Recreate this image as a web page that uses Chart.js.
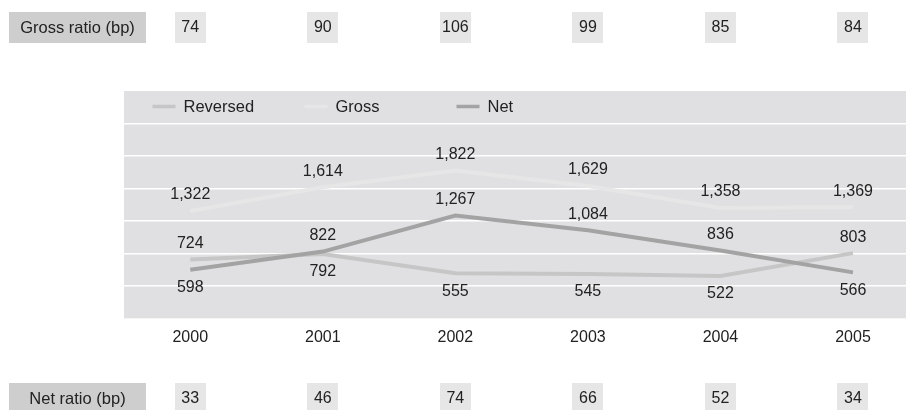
<!DOCTYPE html>
<html>
<head>
<meta charset="utf-8">
<script src="https://cdn.jsdelivr.net/npm/chart.js@4"></script>
<style>
  html, body { margin: 0; padding: 0; background: #fff; }
  #wrap { width: 906px; height: 410px; position: relative; }
</style>
</head>
<body>
<div id="wrap"><canvas id="c"></canvas></div>
<script>
// Yearly volumes and ratios
const years = ['2000', '2001', '2002', '2003', '2004', '2005'];
const reversed = [724, 792, 555, 545, 522, 803];
const gross = [1322, 1614, 1822, 1629, 1358, 1369];
const net = [598, 822, 1267, 1084, 836, 566];
const grossRatio = [74, 90, 106, 99, 85, 84];
const netRatio = [33, 46, 74, 66, 52, 34];
const yMax = 2800;
const yStep = 400;

const FONT = '"Liberation Sans", Arial, sans-serif';
const TEXT = '#222';

// label side per point: -1 above the line, +1 below it
const reversedSide = [-1, 1, 1, 1, 1, -1];
const grossSide = [-1, -1, -1, -1, -1, -1];
const netSide = [1, -1, -1, -1, -1, 1];

const toPoints = arr => arr.map((v, i) => ({ x: i, y: v }));

const panelPlugin = {
  id: 'panel',
  beforeDraw(chart) {
    const { ctx, chartArea: a } = chart;
    ctx.save();
    ctx.fillStyle = '#e0e0e2';
    ctx.fillRect(a.left, a.top, a.right - a.left, a.bottom - a.top);
    ctx.restore();
  },
  afterDatasetsDraw(chart) {
    const { ctx } = chart;
    ctx.save();
    ctx.font = '16px ' + FONT;
    ctx.fillStyle = TEXT;
    ctx.textAlign = 'center';
    ctx.textBaseline = 'middle';
    chart.data.datasets.forEach((ds, di) => {
      const meta = chart.getDatasetMeta(di);
      meta.data.forEach((pt, i) => {
        const side = ds.labelSide[i];
        const dy = side < 0 ? -16 : 18;
        ctx.fillText(ds.data[i].y.toLocaleString('en-US'), pt.x, pt.y + dy);
      });
    });
    ctx.restore();
  },
  afterDraw(chart) {
    const { ctx, chartArea: a } = chart;
    const x = chart.scales.x;
    ctx.save();
    ctx.textBaseline = 'middle';

    // ratio rows above and below the chart
    const rows = [
      { title: 'Gross ratio (bp)', values: grossRatio, top: 12 },
      { title: 'Net ratio (bp)', values: netRatio, top: 383 }
    ];
    rows.forEach(r => {
      const h = 31;
      ctx.fillStyle = '#cecece';
      ctx.fillRect(9, r.top, 137, h);
      ctx.fillStyle = TEXT;
      ctx.textAlign = 'center';
      ctx.font = '16.5px ' + FONT;
      ctx.fillText(r.title, 9 + 137 / 2, r.top + h / 2 + 0.5);
      ctx.font = '16px ' + FONT;
      r.values.forEach((v, i) => {
        const cx = x.getPixelForValue(i);
        ctx.fillStyle = '#e6e6e6';
        ctx.fillRect(Math.round(cx - 15.5), r.top, 31, h);
        ctx.fillStyle = TEXT;
        ctx.fillText(String(v), cx, r.top + h / 2 + 0.5);
      });
    });

    // legend inside the top band of the panel
    const ly = a.top + 15.5;
    ctx.font = '16.5px ' + FONT;
    chart.data.datasets.forEach((ds, i) => {
      const lx = a.left + 28.5 + i * 152;
      ctx.strokeStyle = ds.borderColor;
      ctx.lineWidth = 3.5;
      ctx.beginPath();
      ctx.moveTo(lx, ly);
      ctx.lineTo(lx + 23, ly);
      ctx.stroke();
      ctx.fillStyle = TEXT;
      ctx.textAlign = 'left';
      ctx.fillText(ds.label, lx + 31, ly + 0.5);
    });
    ctx.restore();
  }
};

new Chart(document.getElementById('c'), {
  type: 'line',
  data: {
    datasets: [
      { label: 'Reversed', data: toPoints(reversed), borderColor: '#c6c6c6', labelSide: reversedSide, order: 1 },
      { label: 'Gross', data: toPoints(gross), borderColor: '#e6e6e6', labelSide: grossSide, order: 2 },
      { label: 'Net', data: toPoints(net), borderColor: '#a3a3a3', labelSide: netSide, order: 0 }
    ]
  },
  options: {
    responsive: true,
    maintainAspectRatio: false,
    animation: false,
    devicePixelRatio: 1,
    layout: { padding: { top: 91, left: 124, right: 0, bottom: 61.5 } },
    elements: {
      line: { borderWidth: 4, tension: 0, borderCapStyle: 'butt', borderJoinStyle: 'miter' },
      point: { radius: 0, hoverRadius: 0 }
    },
    plugins: { legend: { display: false }, tooltip: { enabled: false } },
    scales: {
      x: {
        type: 'linear',
        min: -0.5,
        max: 5.4,
        grid: { display: false },
        border: { display: false },
        afterBuildTicks: s => { s.ticks = years.map((_, i) => ({ value: i })); },
        ticks: {
          autoSkip: false,
          maxRotation: 0,
          padding: 1.5,
          color: TEXT,
          font: { family: FONT, size: 16 },
          callback: v => years[v]
        }
      },
      y: {
        min: 0,
        max: yMax,
        afterFit: s => { s.width = 0; },
        ticks: { display: false, stepSize: yStep },
        border: { display: false },
        grid: {
          drawTicks: false,
          lineWidth: 1.5,
          color: c => (c.tick.value === 0 || c.tick.value === yMax) ? 'rgba(0,0,0,0)' : '#ffffff'
        }
      }
    }
  },
  plugins: [panelPlugin]
});
</script>
</body>
</html>
